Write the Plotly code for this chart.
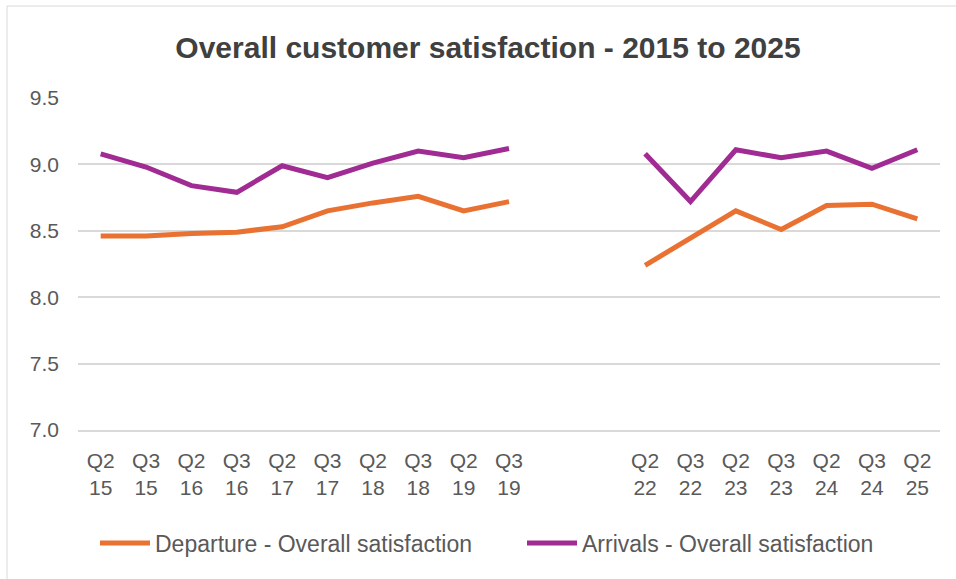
import plotly.graph_objects as go

# Survey waves (two blank slots mark the 2020-2021 break in fieldwork)
periods = ["Q2<br>15", "Q3<br>15", "Q2<br>16", "Q3<br>16", "Q2<br>17", "Q3<br>17",
           "Q2<br>18", "Q3<br>18", "Q2<br>19", "Q3<br>19", "", "",
           "Q2<br>22", "Q3<br>22", "Q2<br>23", "Q3<br>23", "Q2<br>24", "Q3<br>24", "Q2<br>25"]

departure = [8.46, 8.46, 8.48, 8.49, 8.53, 8.65, 8.71, 8.76, 8.65, 8.72, None, None,
             8.24, 8.45, 8.65, 8.51, 8.69, 8.70, 8.59]

arrivals = [9.08, 8.98, 8.84, 8.79, 8.99, 8.90, 9.01, 9.10, 9.05, 9.12, None, None,
            9.08, 8.72, 9.11, 9.05, 9.10, 8.97, 9.11]

y_ticks = [7.0, 7.5, 8.0, 8.5, 9.0, 9.5]

x = list(range(len(periods)))
FONT = "Liberation Sans, Arial, sans-serif"
TEXT = "#595959"
GRID = "#D9D9D9"

fig = go.Figure()
fig.add_trace(go.Scatter(x=x, y=departure, mode="lines", name="Departure - Overall satisfaction",
                         line=dict(color="#E97132", width=5), connectgaps=False,
                         legend="legend"))
fig.add_trace(go.Scatter(x=x, y=arrivals, mode="lines", name="Arrivals - Overall satisfaction",
                         line=dict(color="#A02B93", width=5), connectgaps=False,
                         legend="legend2"))

L, R, T, B = 78, 16, 98, 149
W, H = 956, 579
pw, ph = W - L - R, H - T - B


def legend_at(left_px):
    return dict(orientation="h", xref="container", x=left_px / W, xanchor="left",
                yref="container", y=1 - 543 / H, yanchor="middle",
                font=dict(family=FONT, size=23, color=TEXT), itemwidth=50,
                bgcolor="rgba(0,0,0,0)")


fig.update_layout(
    width=W, height=H,
    margin=dict(l=L, r=R, t=T, b=B),
    paper_bgcolor="white", plot_bgcolor="white",
    title=dict(text="<b>Overall customer satisfaction - 2015 to 2025</b>",
               x=488 / W, xref="container", xanchor="center", y=1 - 47 / H, yanchor="middle",
               font=dict(family=FONT, size=30, color="#404040")),
    xaxis=dict(range=[-0.5, len(periods) - 0.5], tickmode="array", tickvals=x, ticktext=periods,
               showgrid=False, zeroline=False, showline=True, linecolor=GRID, linewidth=1.5,
               ticks="", ticklabelstandoff=11,
               tickfont=dict(family=FONT, size=21, color=TEXT)),
    yaxis=dict(range=[7.0, 9.5], tickmode="array", tickvals=y_ticks,
               ticktext=[f"{v:.1f}" for v in y_ticks],
               showgrid=True, gridcolor=GRID, gridwidth=1.5, zeroline=False,
               showline=False, ticks="", ticklabelstandoff=18,
               tickfont=dict(family=FONT, size=21, color=TEXT)),
    legend=legend_at(95),
    legend2=legend_at(522),
    showlegend=True,
)

# Light frame around the chart area
fig.add_shape(type="rect", xref="paper", yref="paper",
              x0=(7 - L) / pw, x1=(W + 5 - L) / pw,
              y0=-(H + 5 - (H - B)) / ph, y1=1 + (T - 6) / ph,
              line=dict(color=GRID, width=1), fillcolor="rgba(0,0,0,0)", layer="below")

fig.write_html("out.html")
